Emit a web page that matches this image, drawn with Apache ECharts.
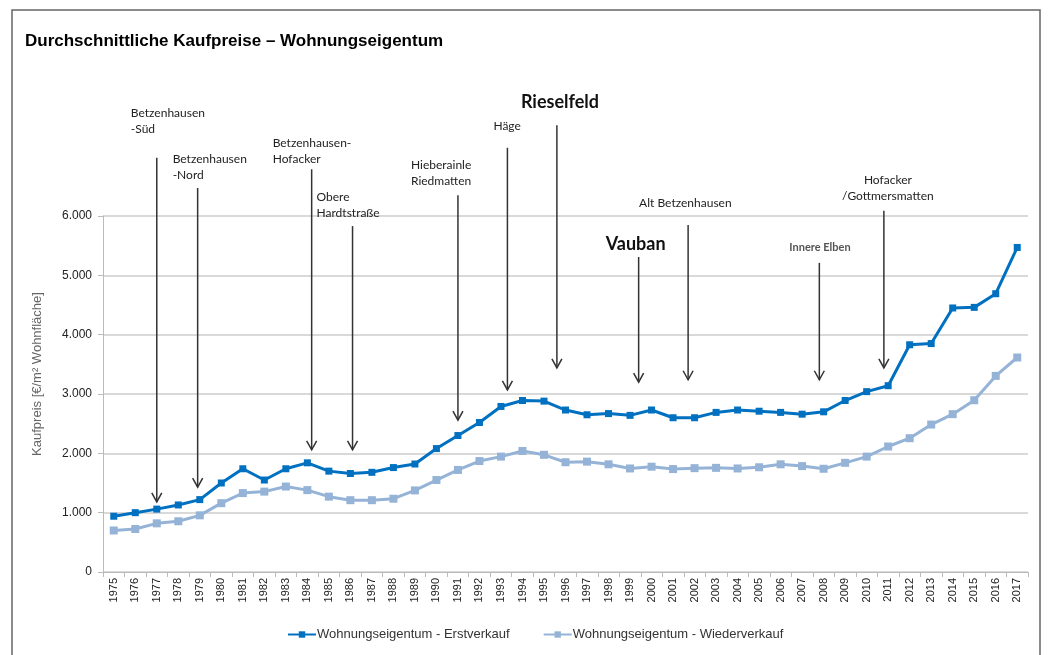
<!DOCTYPE html>
<html>
<head>
<meta charset="utf-8">
<title>Durchschnittliche Kaufpreise – Wohnungseigentum</title>
<script src="https://cdn.jsdelivr.net/npm/echarts@6/dist/echarts.min.js"></script>
<style>
  html, body { margin: 0; padding: 0; background: #fff; }
  #chart { width: 1053px; height: 655px; }
</style>
</head>
<body>
<div id="chart"></div>
<script>
// Jahre (x-Achse)
var years = [];
for (var y = 1975; y <= 2017; y++) { years.push(String(y)); }

// Kaufpreis in €/m² Wohnfläche
var erstverkauf = [940, 1000, 1060, 1130, 1220, 1500, 1740, 1550, 1740, 1840,
                   1700, 1660, 1680, 1760, 1820, 2080, 2300, 2520, 2790, 2890,
                   2880, 2730, 2650, 2670, 2640, 2730, 2600, 2600, 2690, 2730,
                   2710, 2690, 2660, 2700, 2890, 3040, 3140, 3830, 3850, 4450,
                   4460, 4690, 5470];
var wiederverkauf = [700, 725, 820, 855, 955, 1160, 1330, 1355, 1440, 1380,
                     1270, 1210, 1210, 1235, 1375, 1550, 1720, 1870, 1945, 2040,
                     1975, 1850, 1860, 1815, 1745, 1775, 1735, 1750, 1755, 1745,
                     1765, 1815, 1785, 1740, 1840, 1945, 2115, 2255, 2485, 2660,
                     2895, 3305, 3615];

var yTicks = [0, 1000, 2000, 3000, 4000, 5000, 6000];

// Baugebiete (Pfeile): Beschriftung, Jahr, Pfeilanfang, Pfeilspitze (Wert)
var annotLabels = ['Betzenhausen\n-Süd', 'Betzenhausen\n-Nord', 'Betzenhausen-\nHofacker',
                   'Obere\nHardtstraße', 'Hieberainle\nRiedmatten', 'Häge', 'Rieselfeld',
                   'Vauban', 'Alt Betzenhausen', 'Innere Elben', 'Hofacker\n/Gottmersmatten'];
var annotYears = [1977, 1978.9, 1984.2, 1986.1, 1991, 1993.3, 1995.6, 1999.4, 2001.7, 2007.8, 2010.8];
var annotTop = [6980, 6470, 6790, 5830, 6350, 7150, 7530, 5310, 5850, 5210, 6090];
var annotTip = [1180, 1430, 2060, 2060, 2560, 3070, 3440, 3200, 3240, 3240, 3440];

// Lage der Beschriftung relativ zum Pfeilanfang [dx, dy, align, stil]
var annotText = [
    [-26, -53, 'left', 'n'], [-25, -37, 'left', 'n'], [-39, -34, 'left', 'n'],
    [-36, -37, 'left', 'n'], [-47, -38, 'left', 'n'], [-14, -30, 'left', 'n'],
    [-36, -33, 'left', 'b'], [-33, -23, 'left', 'b'], [-49, -30, 'left', 'n'],
    [-30, -21, 'left', 's'], [4, -39, 'center', 'n']
];

var fmt = function (v) {
    return v === 0 ? '0' : String(v).replace(/\B(?=(\d{3})+(?!\d))/g, '.');
};

var chart = echarts.init(document.getElementById('chart'));

var xAt = function (api, pos, val) {
    var idx = pos - 1975;
    var i0 = Math.floor(idx), f = idx - i0;
    var p0 = api.coord([years[i0], val]);
    if (f === 0) return p0;
    var p1 = api.coord([years[i0 + 1], val]);
    return [p0[0] + (p1[0] - p0[0]) * f, p0[1]];
};

var renderArrow = function (params, api) {
    var i = params.dataIndex;
    var top = xAt(api, annotYears[i], annotTop[i]);
    var tip = xAt(api, annotYears[i], annotTip[i]);
    var t = annotText[i];
    var font = '12px Lato', lh = 16, fill = '#222';
    if (t[3] === 'b') { font = 'bold 18px Lato'; lh = 20; fill = '#111'; }
    if (t[3] === 's') { font = 'bold 11px Lato'; lh = 12; fill = '#555'; }
    return {
        type: 'group',
        children: [{
            type: 'line',
            shape: { x1: top[0], y1: top[1], x2: tip[0], y2: tip[1] },
            style: { stroke: '#333', lineWidth: 1.5 }
        }, {
            type: 'polyline',
            shape: { points: [[tip[0] - 5, tip[1] - 9], [tip[0], tip[1]], [tip[0] + 5, tip[1] - 9]] },
            style: { stroke: '#333', lineWidth: 1.5, fill: null }
        }, {
            type: 'text',
            x: top[0] + t[0],
            y: top[1] + t[1],
            style: {
                text: annotLabels[i],
                font: font,
                lineHeight: lh,
                fill: fill,
                align: t[2],
                verticalAlign: 'top'
            }
        }]
    };
};

var option = {
    backgroundColor: '#fff',
    animation: false,
    textStyle: { fontFamily: 'Liberation Sans, Arial, sans-serif' },
    title: {
        text: 'Durchschnittliche Kaufpreise – Wohnungseigentum',
        left: 20,
        top: 28,
        textStyle: { fontSize: 17, fontWeight: 'bold', color: '#000', fontFamily: 'Liberation Sans, Arial, sans-serif' }
    },
    graphic: [{
        type: 'rect',
        shape: { x: 12, y: 10, width: 1028, height: 700 },
        style: { fill: null, stroke: '#666', lineWidth: 1.5 },
        silent: true
    }, {
        // Achsentitel
        type: 'text',
        x: 37,
        y: 374,
        rotation: Math.PI / 2,
        style: {
            text: 'Kaufpreis [€/m² Wohnfläche]',
            font: '13px Liberation Sans, Arial, sans-serif',
            fill: '#666',
            align: 'center',
            verticalAlign: 'middle'
        },
        silent: true
    }],
    legend: {
        left: 282,
        top: 623,
        itemWidth: 28,
        itemHeight: 8,
        itemGap: 33,
        textStyle: { fontSize: 13, color: '#333', padding: [0, 0, 0, -4] },
        data: ['Wohnungseigentum - Erstverkauf', 'Wohnungseigentum - Wiederverkauf']
    },
    grid: { left: 103, right: 25, top: 216, bottom: 83 },
    xAxis: {
        type: 'category',
        data: years,
        boundaryGap: true,
        axisLine: { lineStyle: { color: '#bbb' } },
        axisTick: { show: true, length: 5, lineStyle: { color: '#bbb' } },
        axisLabel: { rotate: 90, fontSize: 11, color: '#222', margin: 6 }
    },
    yAxis: {
        type: 'value',
        min: 0,
        max: 6000,
        interval: 1000,
        axisLine: { show: true, lineStyle: { color: '#bbb' } },
        axisTick: { show: true, length: 5, lineStyle: { color: '#bbb' } },
        splitLine: { lineStyle: { color: '#ccc', width: 1.5 } },
        axisLabel: {
            fontSize: 12, color: '#222', margin: 11,
            formatter: function (v) { return yTicks.indexOf(v) >= 0 ? fmt(v) : ''; }
        }
    },
    series: [{
        name: 'Wohnungseigentum - Wiederverkauf',
        type: 'line',
        data: wiederverkauf,
        symbol: 'rect',
        symbolSize: 8,
        color: '#95B3D7',
        lineStyle: { width: 3, color: '#95B3D7' },
        itemStyle: { color: '#95B3D7' }
    }, {
        name: 'Wohnungseigentum - Erstverkauf',
        type: 'line',
        data: erstverkauf,
        symbol: 'rect',
        symbolSize: 7,
        color: '#0070C0',
        lineStyle: { width: 3, color: '#0070C0' },
        itemStyle: { color: '#0070C0' }
    }, {
        type: 'custom',
        name: 'Pfeile',
        clip: false,
        silent: true,
        renderItem: renderArrow,
        data: annotLabels.map(function (l, i) { return [years[Math.round(annotYears[i] - 1975)], annotTop[i]]; }),
        z: 5
    }]
};

chart.setOption(option);
</script>
</body>
</html>
